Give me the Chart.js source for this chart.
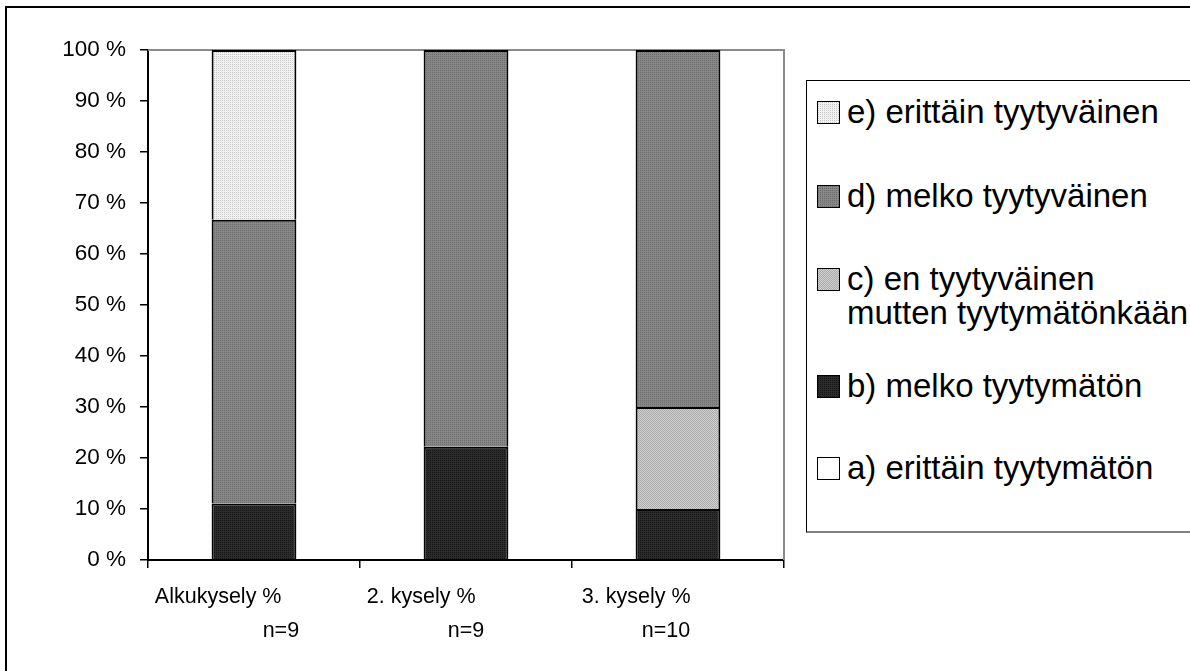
<!DOCTYPE html>
<html>
<head>
<meta charset="utf-8">
<script src="https://cdn.jsdelivr.net/npm/chart.js@4.4.1/dist/chart.umd.min.js"></script>
<style>
  html, body { margin: 0; padding: 0; background: #fff; }
  #wrap { position: relative; width: 1190px; height: 671px; overflow: hidden;
          font-family: "Liberation Sans", Arial, sans-serif; }
  #frame { position: absolute; left: 5px; top: 6px; width: 1400px; height: 900px;
           border-left: 2px solid #000; border-top: 2px solid #000; }
  #c { position: absolute; left: 0; top: 0; }
  #legend { position: absolute; left: 806px; top: 80px; width: 500px; height: 453px;
            box-sizing: border-box; border: 1px solid #000; border-bottom: 2px solid #808080; background: #fff; }
  .item { position: absolute; left: 10px; display: flex; align-items: flex-start;
          font-size: 33px; line-height: 34px; color: #000; white-space: nowrap; }
  .item canvas { display: block; margin-top: 6px; margin-right: 7px; border: 1px solid #000; }
</style>
</head>
<body>
<div id="wrap">
  <div id="frame"></div>
  <canvas id="c" width="1190" height="671"></canvas>
  <div id="legend"></div>
</div>
<script>
// Survey rounds (each label: first line, second line)
const categories = [
  ['Alkukysely %            ', '         n=9'],
  ['2. kysely %               ', 'n=9'],
  ['3. kysely %              ', 'n=10    ']
];

// Share of answers per satisfaction level, percent of respondents
const seriesNames = [
  'a) erittäin tyytymätön',
  'b) melko tyytymätön',
  'c) en tyytyväinen mutten tyytymätönkään',
  'd) melko tyytyväinen',
  'e) erittäin tyytyväinen'
];
const aValues = [0, 0, 0];
const bValues = [11.1, 22.2, 10];
const cValues = [0, 0, 20];
const dValues = [55.6, 77.8, 70];
const eValues = [33.3, 0, 0];

const yTicks = [0, 10, 20, 30, 40, 50, 60, 70, 80, 90, 100];

// Legend text lines (long label wraps onto two rows)
const legendLines = {
  4: ['e) erittäin tyytyväinen'],
  3: ['d) melko tyytyväinen'],
  2: ['c) en tyytyväinen', 'mutten tyytymätönkään'],
  1: ['b) melko tyytymätön'],
  0: ['a) erittäin tyytymätön']
};

// Dotted fill tiles for the bar segments
function tile(base, dot, cells) {
  const t = document.createElement('canvas');
  t.width = 2; t.height = 2;
  const g = t.getContext('2d');
  g.fillStyle = base; g.fillRect(0, 0, 2, 2);
  g.fillStyle = dot;
  cells.forEach(([x, y]) => g.fillRect(x, y, 1, 1));
  return t;
}
const tiles = [
  tile('#ffffff', '#ffffff', []),
  tile('#2c2c2c', '#151515', [[0, 0]]),
  tile('#d2d2d2', '#a9a9a9', [[0, 0], [1, 1]]),
  tile('#878787', '#6c6c6c', [[0, 0]]),
  tile('#f2f2f2', '#c6c6c6', [[0, 0]])
];

const ctx = document.getElementById('c').getContext('2d');
const fills = tiles.map(t => ctx.createPattern(t, 'repeat'));

const values = [aValues, bValues, cValues, dValues, eValues];
const datasets = values.map((v, i) => ({
  label: seriesNames[i],
  data: v,
  backgroundColor: fills[i],
  borderColor: '#000',
  borderWidth: 2,
  categoryPercentage: 1.0,
  barPercentage: 0.4
}));

// Grey frame along the top and right of the plot area
const plotFrame = {
  id: 'plotFrame',
  beforeDatasetsDraw(chart) {
    const { ctx, chartArea: { left, top, right, bottom } } = chart;
    ctx.save();
    ctx.strokeStyle = '#8a8a8a';
    ctx.lineWidth = 2;
    ctx.beginPath();
    ctx.moveTo(left, top);
    ctx.lineTo(right, top);
    ctx.lineTo(right, bottom);
    ctx.stroke();
    ctx.restore();
  }
};

new Chart(ctx, {
  type: 'bar',
  data: { labels: categories, datasets },
  plugins: [plotFrame],
  options: {
    responsive: false,
    animation: false,
    layout: { padding: { left: 0, top: 50, right: 406, bottom: 0 } },
    plugins: { legend: { display: false }, tooltip: { enabled: false } },
    scales: {
      x: {
        stacked: true,
        grid: { offset: true, drawOnChartArea: false, drawTicks: true, tickLength: 8, color: '#000', lineWidth: 1.5 },
        border: { color: '#000', width: 2 },
        ticks: {
          color: '#000', padding: 12, maxRotation: 0, autoSkip: false,
          font: { family: '"Liberation Sans", Arial, sans-serif', size: 21.5, lineHeight: 1.58 }
        },
        afterFit(s) { s.height = 111; }
      },
      y: {
        stacked: true,
        min: 0, max: 100,
        afterBuildTicks(s) { s.ticks = yTicks.map(v => ({ value: v })); },
        grid: { drawOnChartArea: false, drawTicks: true, tickLength: 8, color: '#000', lineWidth: 1.5 },
        border: { color: '#000', width: 2 },
        ticks: {
          color: '#000', padding: 14,
          font: { family: '"Liberation Sans", Arial, sans-serif', size: 22.5 },
          callback: v => v + ' %'
        },
        afterFit(s) { s.width = 148; }
      }
    }
  }
});

// Legend, top entry first
const legendTops = [94, 178, 261, 368, 450];
const legend = document.getElementById('legend');
[4, 3, 2, 1, 0].forEach((idx, row) => {
  const item = document.createElement('div');
  item.className = 'item';
  item.style.top = (legendTops[row] - 80) + 'px';
  const sw = document.createElement('canvas');
  sw.width = 21; sw.height = 21;
  const g = sw.getContext('2d');
  g.fillStyle = g.createPattern(tiles[idx], 'repeat');
  g.fillRect(0, 0, 21, 21);
  item.appendChild(sw);
  const txt = document.createElement('div');
  legendLines[idx].forEach(line => {
    const d = document.createElement('div');
    d.textContent = line;
    txt.appendChild(d);
  });
  item.appendChild(txt);
  legend.appendChild(item);
});
</script>
</body>
</html>
